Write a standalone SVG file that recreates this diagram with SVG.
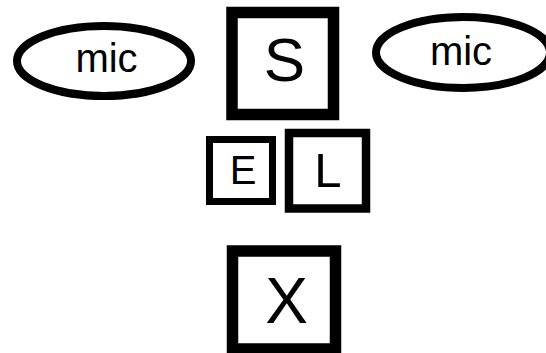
<svg xmlns="http://www.w3.org/2000/svg" width="546" height="353" viewBox="0 0 546 353">
<style>
.s{fill:#fff;stroke:#000}
.t{font-family:"Liberation Sans",Arial,sans-serif;fill:#000;text-anchor:middle}
</style>
<rect width="546" height="353" fill="#fff"/>
<g id="connectors"/>
<g id="mic1"><ellipse class="s" cx="104" cy="61" rx="87" ry="35" stroke-width="8"/><text class="t" x="106.5" y="72" font-size="40">mic</text></g>
<g id="mic2"><ellipse class="s" cx="463" cy="52.5" rx="87" ry="35.5" stroke-width="8"/><text class="t" x="461" y="65" font-size="40">mic</text></g>
<g id="S"><rect class="s" x="232" y="12.5" width="101.5" height="102" stroke-width="11.5"/><text class="t" x="284.5" y="81" font-size="62">S</text></g>
<g id="E"><rect class="s" x="209.5" y="139.5" width="63" height="62" stroke-width="7"/><text class="t" x="243" y="184" font-size="40">E</text></g>
<g id="L"><rect class="s" x="289" y="133" width="77" height="75.5" stroke-width="8.5"/><text class="t" x="328" y="187" font-size="49">L</text></g>
<g id="X"><rect class="s" x="232.5" y="251" width="103" height="98" stroke-width="11.5"/><text class="t" x="286.5" y="323" font-size="64">X</text></g>
</svg>
